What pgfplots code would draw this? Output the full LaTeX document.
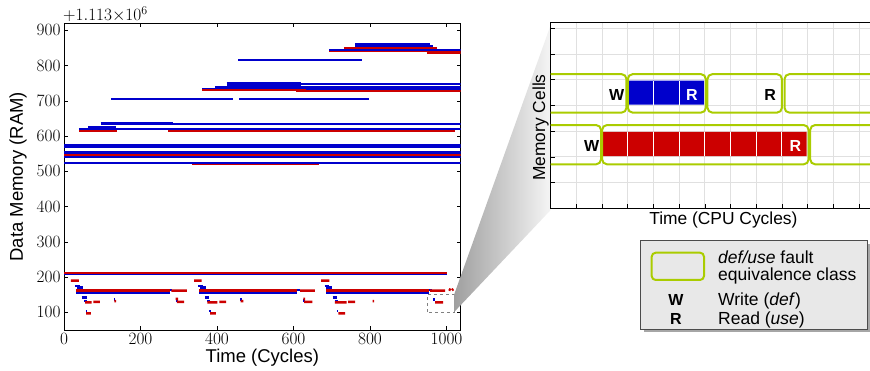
\documentclass[border=0pt]{standalone}
\usepackage{pgfplots}
\pgfplotsset{compat=1.18}
\usepackage{fontspec}
\newfontfamily\arial{Liberation Sans}
\definecolor{cb}{RGB}{0,0,204}
\definecolor{cr}{RGB}{204,0,0}
\definecolor{cg}{RGB}{170,204,0}
\definecolor{lg}{RGB}{232,232,232}
\begin{document}
\begin{tikzpicture}
\useasboundingbox (0pt,0pt) rectangle (870pt,371pt);
\clip (0pt,0pt) rectangle (870pt,371pt);
% ---------------- left panel ----------------
\begin{axis}[at={(64pt,41pt)}, anchor=south west, scale only axis,
  width=396.7pt, height=306.7pt,
  xmin=0, xmax=1037, ymin=50, ymax=920,
  xtick={0,200,...,1000}, ytick={100,200,...,900},
  /pgf/number format/1000 sep={},
  tick align=inside, major tick length=4pt,
  tick style={black, line width=0.7pt},
  axis line style={line width=0.8pt},
  ticklabel style={font=\fontsize{17}{17}\selectfont},
  xlabel={Time (Cycles)}, ylabel={Data Memory (RAM)},
  label style={font=\arial\fontsize{18.5}{20}\selectfont},
  xlabel style={at={(axis description cs:0.5,-0.091)}, anchor=center},
  ylabel style={at={(axis description cs:-0.116,0.5)}, anchor=center},
  unbounded coords=jump]
% red, thin (drawn first, under the blue)
\addplot[cr, line width=2pt] coordinates {
 (732,851) (975,851) (0,nan)
 (694,840) (1037,840) (0,nan)
 (948,836) (1037,836) (0,nan)
 (607,727) (1037,727) (0,nan)
 (39,615) (138,615) (0,nan)
 (273,615) (1022,615) (0,nan)
 (0,545) (1037,545) (0,nan)
 (335,520) (666,520)};
\addplot[cr, line width=1.6pt] coordinates {(0,212) (1000,212)};
% blue, thick
\addplot[cb, line width=4pt] coordinates {
 (0,572) (1037,572) (0,nan)
 (425,749) (619,749)};
% blue, medium
\addplot[cb, line width=3pt] coordinates {
 (761,860) (958,860) (0,nan)
 (96,637) (286,637) (0,nan)
 (63,625) (135,625)};
% blue, thin
\addplot[cb, line width=2pt] coordinates {
 (761,856) (965,856) (0,nan)
 (694,844) (1037,844) (0,nan)
 (456,817) (778,817) (0,nan)
 (619,747) (1037,747) (0,nan)
 (395,740) (1037,740) (0,nan)
 (362,734) (1037,734) (0,nan)
 (123,704.5) (443,704.5) (0,nan)
 (458,704.5) (797,704.5) (0,nan)
 (286,635) (1037,635) (0,nan)
 (39,621) (1037,621) (0,nan)
 (0,555) (1037,555) (0,nan)
 (0,551) (1037,551) (0,nan)
 (0,540) (1037,540) (0,nan)
 (0,524) (1037,524)};
\addplot[cb, line width=1.6pt] coordinates {(0,207) (1000,207)};
% red drawn over the blue band
\addplot[cr, line width=2pt] coordinates {(362,730) (633,730)};
% bottom: blue
\addplot[cb, line width=2.5pt] coordinates {
 (29,175) (42,175) (0,nan) (33,171) (49,171) (0,nan)
 (31,157) (277,157) (0,nan) (277,164) (283,164) (0,nan)
 (46,141.5) (59,141.5) (0,nan) (53,132) (60,132) (0,nan)
 (57,104) (61,104) (0,nan) (131,137) (134,137) (0,nan)
 (293,134) (297,134) (0,nan)
 (351,175) (364,175) (0,nan) (355,171) (371,171) (0,nan)
 (353,157) (610,157) (0,nan) (610,164) (616,164) (0,nan)
 (368,141.5) (380,141.5) (0,nan) (375,132) (382,132) (0,nan)
 (379,104) (384,104) (0,nan) (461,137) (464,137) (0,nan)
 (626,134) (630,134) (0,nan)
 (681,175) (694,175) (0,nan) (685,171) (701,171) (0,nan)
 (685,157) (955,157) (0,nan) (955,164) (961,164) (0,nan)
 (702,141.5) (713,141.5) (0,nan) (708,132) (715,132) (0,nan)
 (713,104) (717,104) (0,nan) (964,136) (969,136)};
% bottom: red
\addplot[cr, line width=3pt] coordinates {
 (31,162.5) (277,162.5) (0,nan) (353,162.5) (610,162.5) (0,nan) (685,162.5) (955,162.5)};
\addplot[cr, line width=2.5pt] coordinates {
 (18,190) (39,190) (0,nan) (281,162) (321,162) (0,nan)
 (55,128) (72,128) (0,nan) (77,130) (94,130) (0,nan)
 (132,132) (136,132) (0,nan) (58,97.5) (70,97.5) (0,nan)
 (292,138) (298,138) (0,nan) (295,130) (314,130) (0,nan)
 (340,190) (360,190) (0,nan) (617,162) (656,162) (0,nan)
 (375,128) (401,128) (0,nan) (406,130) (424,130) (0,nan)
 (462,132) (469,132) (0,nan) (382,97.5) (397,97.5) (0,nan)
 (626,138) (630,138) (0,nan) (628,130) (649,130) (0,nan)
 (672,190) (694,190) (0,nan) (957,162) (996,162) (0,nan)
 (708,128) (739,128) (0,nan) (743,130) (761,130) (0,nan)
 (807,132) (811,132) (0,nan) (717,97.5) (735,97.5) (0,nan)
 (1006,166) (1011,163) (0,nan) (1014,163) (1018,166) (0,nan)
 (970,128) (991,128)};
\draw[gray, dashed, line width=0.8pt] (axis cs:951,101) rectangle (axis cs:1020,151);
\end{axis}
\begin{scope}[x=1pt,y=1pt]
\node[anchor=base west, font=\fontsize{17}{17}\selectfont, inner sep=0pt] at (63,350) {$+1.113{\times}10^{6}$};
% ---------------- zoom shading ----------------
\shade[left color=gray!75, right color=gray!8] (454.2,59) -- (454.2,76.6) -- (550.7,346) -- (550.7,161) -- cycle;
\end{scope}
% ---------------- right panel ----------------
\begin{axis}[at={(550.7pt,162.7pt)}, anchor=south west, scale only axis,
  width=334pt, height=185.6pt,
  xmin=0, xmax=13, ymin=0, ymax=7.22,
  xtick={1,...,12}, ytick={1,...,7},
  xticklabels={}, yticklabels={},
  tick pos=left, tick align=inside, major tick length=4pt,
  tick style={black, line width=0.7pt},
  axis line style={line width=0.8pt},
  grid=major, major grid style={black!12, line width=0.8pt},
  xlabel={Time (CPU Cycles)}, ylabel={Memory Cells},
  label style={font=\arial\fontsize{17.4}{19}\selectfont},
  xlabel style={at={(axis description cs:0.517,-0.063)}, anchor=center},
  ylabel style={at={(axis description cs:-0.03,0.435)}, anchor=center}]
\addplot[fill=cb, draw=none] coordinates {(3.04,4.03) (5.96,4.03) (5.96,4.97) (3.04,4.97) (3.04,4.03)};
\addplot[fill=cr, draw=none] coordinates {(2.04,2.03) (9.96,2.03) (9.96,2.97) (2.04,2.97) (2.04,2.03)};
\addplot[white, line width=1pt, unbounded coords=jump] coordinates {
 (4,4.03) (4,4.97) (0,nan) (5,4.03) (5,4.97) (0,nan)
 (3,2.03) (3,2.97) (0,nan) (4,2.03) (4,2.97) (0,nan)
 (5,2.03) (5,2.97) (0,nan) (6,2.03) (6,2.97) (0,nan)
 (7,2.03) (7,2.97) (0,nan) (8,2.03) (8,2.97) (0,nan)
 (9,2.03) (9,2.97)};
\draw[cg, line width=2pt, rounded corners=5pt] (axis cs:-1,3.72) rectangle (axis cs:2.95,5.22);
\draw[cg, line width=2pt, rounded corners=5pt] (axis cs:3.0,3.72) rectangle (axis cs:6.04,5.22);
\draw[cg, line width=2pt, rounded corners=5pt] (axis cs:6.1,3.72) rectangle (axis cs:9.0,5.22);
\draw[cg, line width=2pt, rounded corners=5pt] (axis cs:9.1,3.72) rectangle (axis cs:14,5.22);
\draw[cg, line width=2pt, rounded corners=5pt] (axis cs:-1,1.71) rectangle (axis cs:1.96,3.24);
\draw[cg, line width=2pt, rounded corners=5pt] (axis cs:2.0,1.71) rectangle (axis cs:10.04,3.24);
\draw[cg, line width=2pt, rounded corners=5pt] (axis cs:10.1,1.71) rectangle (axis cs:14,3.24);
\node[font=\arial\bfseries\fontsize{16}{16}\selectfont, inner sep=0pt] at (axis cs:2.57,4.42) {W};
\node[font=\arial\bfseries\fontsize{16}{16}\selectfont, inner sep=0pt, white] at (axis cs:5.5,4.42) {R};
\node[font=\arial\bfseries\fontsize{16}{16}\selectfont, inner sep=0pt] at (axis cs:8.54,4.42) {R};
\node[font=\arial\bfseries\fontsize{16}{16}\selectfont, inner sep=0pt] at (axis cs:1.59,2.42) {W};
\node[font=\arial\bfseries\fontsize{16}{16}\selectfont, inner sep=0pt, white] at (axis cs:9.52,2.42) {R};
\end{axis}
% ---------------- legend ----------------
\begin{scope}[x=1pt,y=1pt]
\fill[black!35] (643.7,38.7) rectangle (870.3,127.3);
\draw[fill=lg, draw=black!70, line width=0.8pt] (640.7,41.7) rectangle (867.3,130.3);
\draw[cg, line width=2pt, rounded corners=4pt] (651.7,91) rectangle (704,118.3);
\begin{scope}[every node/.style={inner sep=0pt, font=\arial\fontsize{17.5}{19}\selectfont}]
\node[anchor=base west] at (718,107.7) {\itshape def/use\upshape{} fault};
\node[anchor=base west] at (718,90.3) {equivalence class};
\node[anchor=base west] at (718,65) {Write (\textit{def})};
\node[anchor=base west] at (718,46) {Read (\textit{use})};
\node[anchor=base, font=\arial\bfseries\fontsize{16}{16}\selectfont] at (676,65) {W};
\node[anchor=base, font=\arial\bfseries\fontsize{16}{16}\selectfont] at (676,46) {R};
\end{scope}
\end{scope}
\end{tikzpicture}
\end{document}
